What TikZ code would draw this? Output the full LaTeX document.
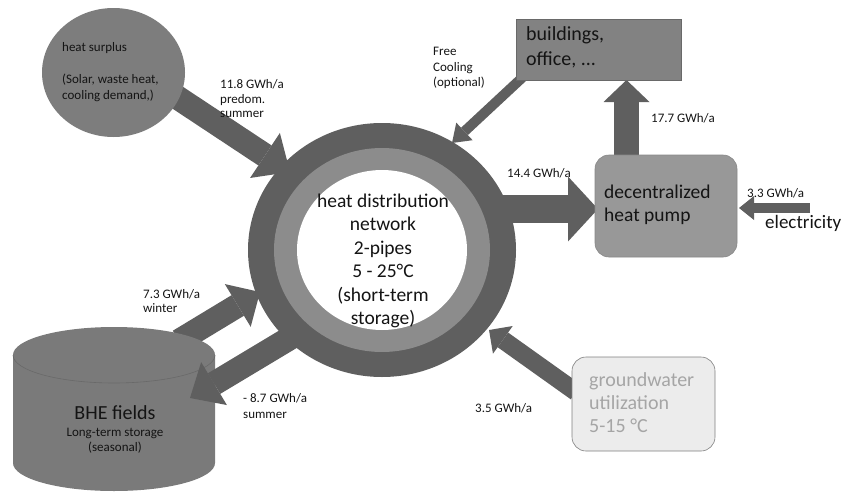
\documentclass[tikz,border=0pt]{standalone}
\usepackage{fontspec}
\setmainfont{Carlito}
\usetikzlibrary{arrows.meta,shapes.geometric,calc}
\definecolor{arrowgray}{RGB}{95,95,95}
\definecolor{ringdark}{RGB}{95,95,95}
\definecolor{ringlight}{RGB}{140,140,140}
\definecolor{shapegray}{RGB}{125,125,125}
\definecolor{boxgray}{RGB}{130,130,130}
\definecolor{pumpgray}{RGB}{152,152,152}
\definecolor{cylfill}{RGB}{122,122,122}
\definecolor{gwfill}{RGB}{236,236,236}
\definecolor{gwtext}{RGB}{165,165,165}
\definecolor{edgegray}{RGB}{105,105,105}
\definecolor{txt}{RGB}{20,20,20}
\begin{document}
\begin{tikzpicture}[x=1pt,y=-1pt,
  flow/.style={draw=arrowgray, line cap=butt},
  lbl/.style={font=\fontsize{13}{14.5}\selectfont, align=left, anchor=west, inner sep=0pt, text=txt},
  bigtxt/.style={font=\fontsize{19.5}{23.5}\selectfont, inner sep=0pt, text=txt}]
\useasboundingbox (0,0) rectangle (844,493);

% coordinates
\coordinate (hsTail) at (160,86);
\coordinate (hsTip) at (290,172);
\coordinate (fcTail) at (524,76);
\coordinate (fcTip) at (452,143);
\coordinate (bdTail) at (626.5,156);
\coordinate (bdTip) at (626.5,80);
\coordinate (hpTail) at (490,209);
\coordinate (hpTip) at (598,209);
\coordinate (elTail) at (810,208);
\coordinate (elTip) at (739,208);
\coordinate (gwTail) at (576,392);
\coordinate (gwTip) at (489,330);
\coordinate (wiTail) at (179,341);
\coordinate (wiTip) at (260,292);
\coordinate (suTail) at (300,332);
\coordinate (suTip) at (190,398);

% ring
\node[ellipse, fill=ringdark, minimum width=268pt, minimum height=254pt, inner sep=0pt] (ringout) at (382,250) {};
\node[ellipse, fill=ringlight, minimum width=216pt, minimum height=204pt, inner sep=0pt] (ringmid) at (382,250) {};
\node[ellipse, fill=white, minimum width=170pt, minimum height=160pt, inner sep=0pt] (ring) at (382,250) {};
\node[bigtxt, align=center] (ringtext) at (383,261) {heat distribution\\network\\2-pipes\\5 - 25°C\\(short-term\\storage)};

% arrows
\draw[flow, line width=24pt, -{Triangle[width=54pt,length=30pt,line width=0pt]}] (hsTail) -- (hsTip);
\draw[flow, line width=10pt, -{Triangle[width=24pt,length=17pt,line width=0pt]}] (fcTail) -- (fcTip);
\draw[flow, line width=25pt, -{Triangle[width=46pt,length=22pt,line width=0pt]}] (bdTail) -- (bdTip);
\draw[flow, line width=28pt, -{Triangle[width=65pt,length=30pt,line width=0pt]}] (hpTail) -- (hpTip);
\draw[flow, line width=10pt, -{Triangle[width=24pt,length=15pt,line width=0pt]}] (elTail) -- (elTip);
\draw[flow, line width=18pt, -{Triangle[width=34pt,length=17pt,line width=0pt]}] (gwTail) -- (gwTip);
\draw[flow, line width=24pt, -{Triangle[width=50pt,length=26pt,line width=0pt]}] (wiTail) -- (wiTip);

% BHE cylinder
\fill[cylfill] (13,355) -- (13,463) arc[start angle=180, end angle=360, x radius=101pt, y radius=28pt] -- (215,355) arc[start angle=0, end angle=180, x radius=101pt, y radius=28pt] -- cycle;
\draw[edgegray, line width=0.6pt] (13,355) arc[start angle=180, end angle=360, x radius=101pt, y radius=28pt];
\node[bigtxt, font=\fontsize{20}{22}\selectfont] (bhe) at (115,413) {BHE fields};
\node[lbl, anchor=center, align=center, font=\fontsize{13}{15}\selectfont] (bhesub) at (115,440.5) {Long-term storage\\(seasonal)};

\draw[flow, line width=24pt, -{Triangle[width=50pt,length=28pt,line width=0pt]}] (suTail) -- (suTip);

% heat surplus
\node[ellipse, fill=shapegray, minimum width=143pt, minimum height=129pt, inner sep=0pt] (surplus) at (113.5,72.5) {};
\node[lbl, font=\fontsize{13}{16}\selectfont] (surplustxt) at (62,72) {heat surplus\\[16pt] (Solar, waste heat,\\cooling demand,)};

% buildings
\node[rectangle, fill=boxgray, draw=edgegray, line width=0.6pt, minimum width=165pt, minimum height=61pt] (build) at (598.5,49.5) {};
\node[lbl, font=\fontsize{20}{25}\selectfont] (buildtxt) at (526,47.5) {buildings,\\office, ...};

% heat pump
\node[rectangle, rounded corners=14pt, fill=pumpgray, draw=edgegray!80, line width=0.6pt, minimum width=142pt, minimum height=102pt] (pump) at (666,206) {};
\node[lbl, font=\fontsize{19.5}{23}\selectfont] (pumptxt) at (604,204.5) {decentralized\\heat pump};

% groundwater
\node[rectangle, rounded corners=14pt, fill=gwfill, draw=gray, line width=0.6pt, minimum width=143pt, minimum height=94pt] (gw) at (643.5,404) {};
\node[lbl, font=\fontsize{20}{23}\selectfont, text=gwtext] (gwtxt) at (589,403) {groundwater\\utilization\\5-15 °C};

% labels
\node[lbl] (l118) at (220,99) {11.8 GWh/a\\predom.\\summer};
\node[lbl, font=\fontsize{13}{15.5}\selectfont] (lfc) at (433,68) {Free\\Cooling\\(optional)};
\node[lbl] (l177) at (651,118) {17.7 GWh/a};
\node[lbl] (l144) at (507,173) {14.4 GWh/a};
\node[lbl] (l33) at (747,193) {3.3 GWh/a};
\node[lbl, font=\fontsize{19}{22}\selectfont] (lel) at (765,223) {electricity};
\node[lbl] (l35) at (475,408) {3.5 GWh/a};
\node[lbl, font=\fontsize{13}{14}\selectfont] (l73) at (143,301.5) {7.3 GWh/a\\winter};
\node[lbl, font=\fontsize{13}{16}\selectfont] (l87) at (243,406.5) {- 8.7 GWh/a\\summer};
\end{tikzpicture}
\end{document}
